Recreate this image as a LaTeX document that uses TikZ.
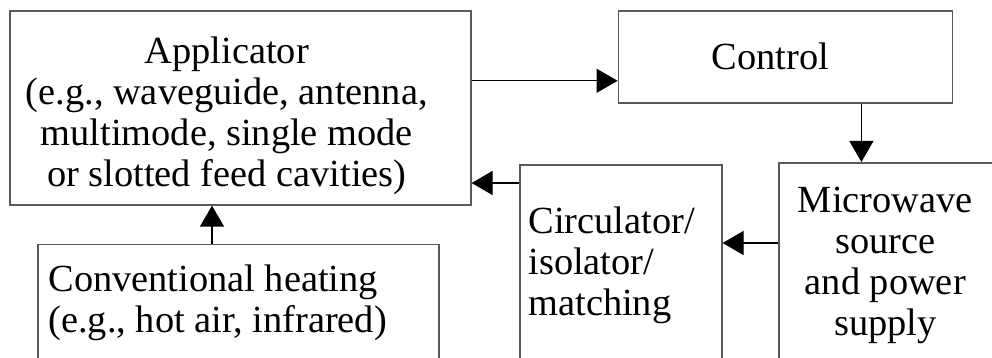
\documentclass[tikz,border=0pt]{standalone}
\usepackage{fontspec}
\setmainfont{Liberation Serif}
\definecolor{BoxGray}{HTML}{5A5A5A}
\usetikzlibrary{arrows.meta}
\usetikzlibrary{positioning}

\begin{document}
\begin{tikzpicture}[x=0.5pt, y=-0.5pt,
    block/.style={shape=rectangle,
      draw=BoxGray,
      line width=0.8pt,
      inner sep=0pt,
      anchor=north west},
    lbl/.style={font=\fontsize{19.2}{20.5}\selectfont,
      inner sep=0pt},
    flow/.style={-{Triangle[length=10.5pt,width=12pt]},
      line width=0.6pt}]
    \useasboundingbox (0,0) rectangle (992,358);
    \clip (0,0) rectangle (992,358);

    \node[name=app,
      block,
      minimum width=230.5pt,
      minimum height=97pt,
      label={[lbl, align=center, anchor=north, xshift=-6.75pt, yshift=-13pt]north:{Applicator\\(e.g., waveguide, antenna,\\multimode, single mode\\or slotted feed cavities)}}] at (9,10) {};

    \node[name=ctrl,
      right=73pt of app.north east,
      block,
      minimum width=167pt,
      minimum height=46pt,
      label={[lbl, anchor=north, xshift=-7.5pt, yshift=-16pt]north:Control}] {};

    \node[name=micro,
      block,
      minimum width=111pt,
      minimum height=120pt,
      label={[lbl, align=center, anchor=north, xshift=-2.25pt, yshift=-12.5pt]north:{Microwave\\source\\and power\\supply}}] at (778,162) {};

    \node[name=circ,
      block,
      minimum width=101pt,
      minimum height=120pt,
      label={[lbl, align=left, anchor=north west, xshift=4.5pt, yshift=-21pt]north west:{Circulator/\\isolator/\\matching}}] at (519,164) {};

    \node[name=conv,
      below=19pt of app.south west,
      block,
      xshift=14pt,
      minimum width=200.5pt,
      minimum height=80pt,
      label={[lbl, align=left, anchor=north west, xshift=5.5pt, yshift=-10.5pt]north west:{Conventional heating\\(e.g., hot air, infrared)}}] {};

    % signal path
    \draw[flow] ([yshift=-12pt]ctrl.west -| app.east) -- ([yshift=-12pt]ctrl.west);
    \draw[flow] ([xshift=38pt]ctrl.south) -- ([xshift=38pt]ctrl.south |- micro.north);
    \draw[flow] ([yshift=-40.5pt]micro.north west) -- ([yshift=-40.5pt]micro.north west -| circ.east);
    \draw[flow] ([yshift=-9.5pt]circ.north west) -- ([yshift=-9.5pt]circ.north west -| app.east);
    \draw[flow] ([xshift=87.5pt]conv.north west) -- ([xshift=87.5pt]conv.north west |- app.south);
\end{tikzpicture}
\end{document}
